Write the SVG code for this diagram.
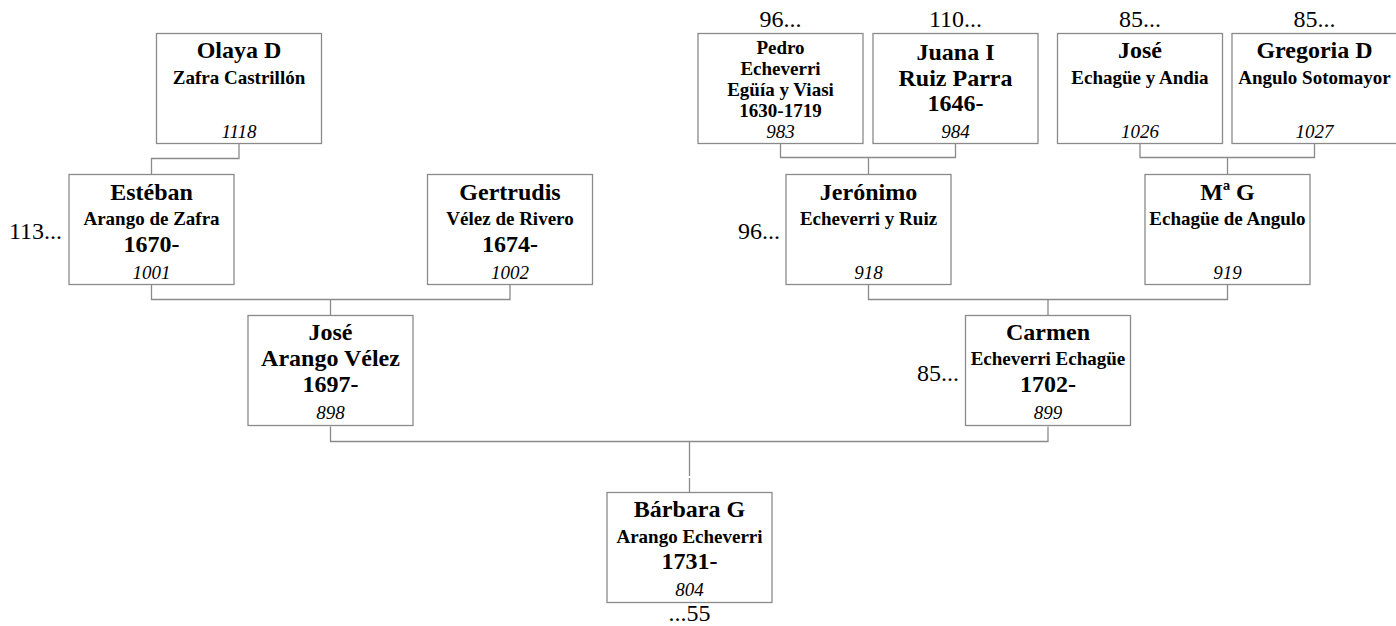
<svg xmlns="http://www.w3.org/2000/svg" width="1396" height="626" viewBox="0 0 1396 626">
<style>
  text { font-family: "Liberation Serif", "Times New Roman", serif; fill: #000; text-anchor: middle; }
  .box { fill: #fff; stroke: #8a8a8a; stroke-width: 1.3; }
  .big { font-size: 24px; font-weight: bold; }
  .sm { font-size: 19px; font-weight: bold; }
  .num { font-size: 19px; font-style: italic; }
  .lbl { font-size: 24px; }
  .end { text-anchor: end; }
  .conn path { fill: none; stroke: #8a8a8a; stroke-width: 1.3; }
</style>
<rect width="1396" height="626" fill="#fff"/>
<g id="connectors" class="conn">
  <path d="M239,143.5 V158.5 H151.5 V174.5"/>
  <path d="M151.5,284.5 V299.5 H510 V284.5 M330.5,299.5 V315.5"/>
  <path d="M780.5,143.5 V157.5 H955.5 V143.5 M868.5,157.5 V174.5"/>
  <path d="M1140,143.5 V157.5 H1314.5 V143.5 M1227.5,157.5 V174.5"/>
  <path d="M868.5,284.5 V299.5 H1227.5 V284.5 M1048,299.5 V315.5"/>
  <path d="M330.5,426.5 V441.5 H1048 V426.5 M689.5,441.5 V476 M689.5,478 V492.5"/>
</g>
<g id="olaya">
  <rect class="box" x="156.5" y="33.5" width="165" height="110"/>
  <text class="big" x="239" y="58">Olaya D</text>
  <text class="sm" x="239" y="83.5">Zafra Castrillón</text>
  <text class="num" x="239" y="137.5">1118</text>
</g>
<g id="esteban">
  <rect class="box" x="69" y="174.5" width="165" height="110"/>
  <text class="big" x="151.5" y="199.5">Estéban</text>
  <text class="sm" x="151.5" y="225">Arango de Zafra</text>
  <text class="big" x="151.5" y="251.5">1670-</text>
  <text class="num" x="151.5" y="278.5">1001</text>
  <text class="lbl end" x="62" y="239">113...</text>
</g>
<g id="gertrudis">
  <rect class="box" x="427.5" y="174.5" width="165" height="110"/>
  <text class="big" x="510" y="199.5">Gertrudis</text>
  <text class="sm" x="510" y="225">Vélez de Rivero</text>
  <text class="big" x="510" y="251.5">1674-</text>
  <text class="num" x="510" y="278.5">1002</text>
</g>
<g id="jose-arango">
  <rect class="box" x="248" y="315.5" width="165" height="110"/>
  <text class="big" x="330.5" y="340">José</text>
  <text class="big" x="330.5" y="366">Arango Vélez</text>
  <text class="big" x="330.5" y="392">1697-</text>
  <text class="num" x="330.5" y="419">898</text>
</g>
<g id="carmen">
  <rect class="box" x="965.5" y="315.5" width="165" height="110"/>
  <text class="big" x="1048" y="340">Carmen</text>
  <text class="sm" x="1048" y="365">Echeverri Echagüe</text>
  <text class="big" x="1048" y="392">1702-</text>
  <text class="num" x="1048" y="419">899</text>
  <text class="lbl end" x="959" y="381">85...</text>
</g>
<g id="pedro">
  <rect class="box" x="698" y="33.5" width="165" height="110"/>
  <text class="sm" x="780.5" y="54">Pedro</text>
  <text class="sm" x="780.5" y="75">Echeverri</text>
  <text class="sm" x="780.5" y="96">Egüía y Viasi</text>
  <text class="sm" x="780.5" y="117">1630-1719</text>
  <text class="num" x="780.5" y="137.5">983</text>
  <text class="lbl" x="780.5" y="27">96...</text>
</g>
<g id="juana">
  <rect class="box" x="873" y="33.5" width="165" height="110"/>
  <text class="big" x="955.5" y="60">Juana I</text>
  <text class="big" x="955.5" y="86">Ruiz Parra</text>
  <text class="big" x="955.5" y="111">1646-</text>
  <text class="num" x="955.5" y="137.5">984</text>
  <text class="lbl" x="955.5" y="27">110...</text>
</g>
<g id="jose-echague">
  <rect class="box" x="1057.5" y="33.5" width="165" height="110"/>
  <text class="big" x="1140" y="58">José</text>
  <text class="sm" x="1140" y="83.5">Echagüe y Andia</text>
  <text class="num" x="1140" y="137.5">1026</text>
  <text class="lbl" x="1140" y="27">85...</text>
</g>
<g id="gregoria">
  <rect class="box" x="1232" y="33.5" width="165" height="110"/>
  <text class="big" x="1314.5" y="58">Gregoria D</text>
  <text class="sm" x="1314.5" y="83.5">Angulo Sotomayor</text>
  <text class="num" x="1314.5" y="137.5">1027</text>
  <text class="lbl" x="1314.5" y="27">85...</text>
</g>
<g id="jeronimo">
  <rect class="box" x="786" y="174.5" width="165" height="110"/>
  <text class="big" x="868.5" y="199.5">Jerónimo</text>
  <text class="sm" x="868.5" y="225">Echeverri y Ruiz</text>
  <text class="num" x="868.5" y="278.5">918</text>
  <text class="lbl end" x="780" y="239">96...</text>
</g>
<g id="ma-g">
  <rect class="box" x="1145" y="174.5" width="165" height="110"/>
  <text class="big" x="1227.5" y="199.5">Mª G</text>
  <text class="sm" x="1227.5" y="225">Echagüe de Angulo</text>
  <text class="num" x="1227.5" y="278.5">919</text>
</g>
<g id="barbara">
  <rect class="box" x="607" y="492.5" width="165" height="110"/>
  <text class="big" x="689.5" y="517">Bárbara G</text>
  <text class="sm" x="689.5" y="542.5">Arango Echeverri</text>
  <text class="big" x="689.5" y="569">1731-</text>
  <text class="num" x="689.5" y="595.5">804</text>
  <text class="lbl" x="689.5" y="621">...55</text>
</g>
</svg>
